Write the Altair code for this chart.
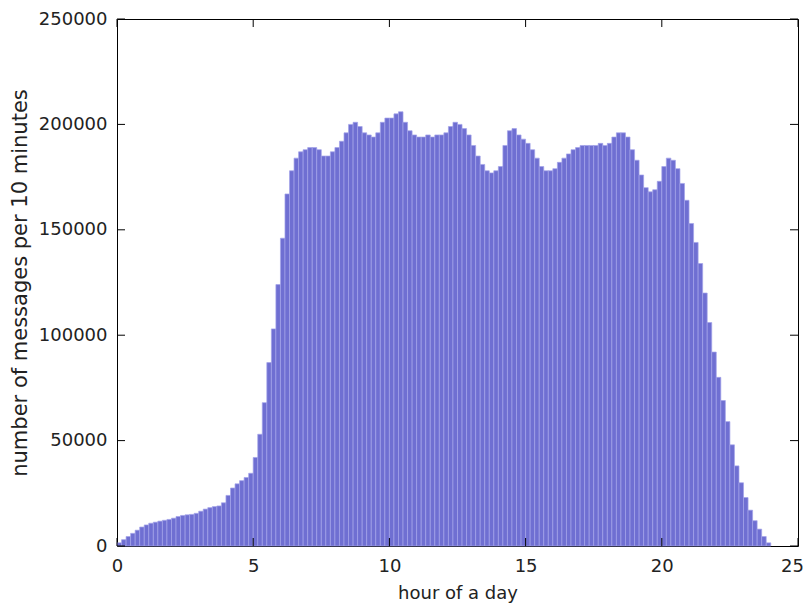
import altair as alt
import pandas as pd

# messages per 10-minute bin, 144 bins over 24 hours
counts = [
    1500, 3000, 4500, 6000, 7500, 9000,
    10000, 10800, 11300, 11800, 12200, 12600,
    13200, 14000, 14500, 14800, 15000, 15500,
    16500, 17500, 18200, 18700, 19000, 20500,
    24000, 27500, 29500, 31000, 32500, 34500,
    42000, 53000, 68000, 87000, 103000, 124000,
    146000, 167000, 178000, 184000, 187000, 188000,
    189000, 189000, 188000, 185000, 185000, 187000,
    189000, 192000, 196000, 200000, 201000, 199000,
    196000, 195000, 194000, 196000, 201000, 203000,
    203000, 205000, 206000, 201000, 197000, 195000,
    194000, 194000, 195000, 194000, 195000, 195000,
    196000, 199000, 201000, 200000, 198000, 195000,
    190000, 185000, 181000, 178000, 177000, 178000,
    180000, 190000, 197000, 198000, 195000, 193000,
    191000, 188000, 184000, 180000, 178000, 178000,
    179000, 182000, 184000, 186000, 188000, 189000,
    190000, 190000, 190000, 190000, 191000, 190000,
    191000, 194000, 196000, 196000, 194000, 188000,
    183000, 176000, 170000, 168000, 169000, 173000,
    180000, 184000, 183000, 179000, 172000, 164000,
    153000, 144000, 134000, 120000, 106000, 92000,
    80000, 69000, 59000, 48000, 38000, 30000,
    23000, 17000, 12000, 8000, 4500, 1500,
]
bin_minutes = 10
x_ticks = [0, 5, 10, 15, 20, 25]
y_ticks = [0, 50000, 100000, 150000, 200000, 250000]

W, H = 681, 527
TICK = 8
X_MAX, Y_MAX = 25, 250000

df = pd.DataFrame({
    "start": [i * bin_minutes / 60 for i in range(len(counts))],
    "end": [(i + 1) * bin_minutes / 60 for i in range(len(counts))],
    "count": counts,
})
xt = pd.DataFrame({"t": x_ticks})
yt = pd.DataFrame({"t": y_ticks})

xscale = alt.Scale(domain=[0, X_MAX], nice=False, padding=0, zero=False)
yscale = alt.Scale(domain=[0, Y_MAX], nice=False, padding=0)

bars = alt.Chart(df).mark_bar(
    color="#6f6fd2", stroke="#a4a4ea", strokeWidth=0.7
).encode(
    x=alt.X("start:Q", scale=xscale,
            axis=alt.Axis(values=x_ticks, title="hour of a day", orient="bottom",
                          grid=False, domain=False, ticks=False,
                          labelFlush=False, labelOverlap=False,
                          labelPadding=11, titlePadding=9, format="d",
                          labelFontSize=18, titleFontSize=18,
                          labelOffset={"condition": {"test": "datum.value === 25",
                                                     "value": -6}, "value": 0})),
    x2="end:Q",
    y=alt.Y("count:Q", scale=yscale,
            axis=alt.Axis(values=y_ticks, title="number of messages per 10 minutes",
                          orient="left", grid=False, domain=False, ticks=False,
                          labelFlush=False, labelOverlap=False,
                          labelPadding=10, titlePadding=8,
                          format="d", labelFontSize=18, titleFontSize=21)),
    y2=alt.datum(0),
)

dy = Y_MAX * TICK / H
dx = X_MAX * TICK / W

def vtick(y0, y1):
    return alt.Chart(xt).mark_bar(color="black", size=1, orient="vertical").encode(
        x=alt.X("t:Q", scale=xscale), y=alt.datum(y0), y2=alt.datum(y1))

def htick(x0, x1):
    return alt.Chart(yt).mark_bar(color="black", size=1, orient="horizontal").encode(
        y=alt.Y("t:Q", scale=yscale), x=alt.datum(x0), x2=alt.datum(x1))

chart = alt.layer(
    bars,
    vtick(0, dy), vtick(Y_MAX - dy, Y_MAX),
    htick(0, dx), htick(X_MAX - dx, X_MAX),
).properties(
    width=W, height=H,
    autosize=alt.AutoSizeParams(type="none"),
    padding={"left": 109, "top": 11, "right": 6, "bottom": 58},
    background="white",
).configure_view(
    stroke="black", strokeWidth=1
).configure_axis(
    labelFont="DejaVu Sans", titleFont="DejaVu Sans",
    titleFontWeight="normal",
    labelColor="#222222", titleColor="#222222",
)

chart.save("out.html", embed_options={"renderer": "svg", "actions": False})
